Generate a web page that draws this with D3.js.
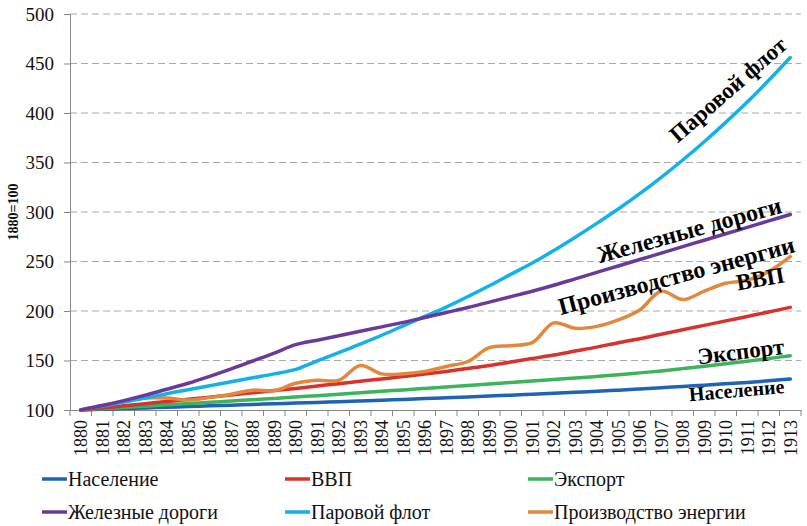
<!DOCTYPE html>
<html>
<head>
<meta charset="utf-8">
<script src="https://cdn.jsdelivr.net/npm/d3@7/dist/d3.min.js"></script>
</head>
<body style="margin:0">
<svg id="chart" width="807" height="526"></svg>
<script>
const years = d3.range(1880, 1914);
const yTicks = [100, 150, 200, 250, 300, 350, 400, 450, 500];
const population = [100, 100.7, 101.4, 102.1, 102.8, 103.5, 104.2, 104.9, 105.6, 106.3, 107.0, 107.7, 108.4, 109.1, 109.9, 110.7, 111.5, 112.3, 113.2, 114.1, 115.0, 115.9, 116.9, 117.9, 118.9, 120.0, 121.2, 122.5, 123.8, 125.1, 126.5, 127.9, 129.5, 131.3];
const gdp = [100, 102, 104.2, 106.4, 108.6, 110.8, 113, 115.2, 117.4, 119.6, 121.8, 124.2, 126.6, 129, 131.4, 133.8, 136.3, 139, 142, 145, 148.5, 152, 155.5, 159.5, 163.5, 168, 172, 176.5, 181, 185.5, 190, 194.5, 199, 203.7];
const exports_ = [100, 101.3, 102.6, 103.9, 105.2, 106.5, 107.8, 109.1, 110.4, 111.7, 113.1, 114.5, 116, 117.4, 118.9, 120.3, 121.8, 123.3, 124.8, 126.3, 127.8, 129.3, 130.8, 132.3, 133.9, 135.5, 137.5, 139.5, 141.8, 144.2, 146.7, 149.3, 152, 154.9];
const railways = [100, 104.5, 109.5, 115, 121, 127, 134, 141.5, 149.5, 157.5, 166, 170.5, 175, 179.5, 184, 188.5, 193.5, 198.5, 203.5, 209, 214.5, 220, 226, 232.5, 239, 245.5, 252, 258.5, 265, 271.5, 278, 284.5, 291, 297.5];
const steamFleet = [100, 104, 108, 112, 116.5, 120.5, 124.5, 128.5, 132.5, 136.5, 141, 149.5, 158, 166.5, 175.5, 185, 194.5, 204, 214.5, 225.5, 237, 248.5, 261, 274.5, 288.5, 303, 318.5, 335, 352.5, 371, 390.5, 411, 433, 456];
const energy = [100, 104.5, 108.5, 112, 112, 110, 112.5, 116, 120, 119.5, 127, 130, 130, 145, 136.5, 136.5, 139, 144, 149, 163, 165, 168, 188, 182.5, 184.5, 191, 201, 220, 211.5, 220, 228, 231, 240, 255];

const seriesNames = ["Население", "ВВП", "Экспорт", "Железные дороги", "Паровой флот", "Производство энергии"];
const seriesValues = [population, gdp, exports_, railways, steamFleet, energy];
const seriesColors = ["#1f63b3", "#d7322c", "#3bb45b", "#6a3a9b", "#12b2e9", "#e2883c"];
const yAxisTitle = "1880=100";
const labelTexts = ["Население", "ВВП", "Экспорт", "Железные дороги", "Паровой флот", "Производство энергии"];
const labelYears = [1910.5, 1911.6, 1910.7, 1908.3, 1910.1, 1907.7];
const labelValues = [120, 233, 159.5, 282, 424, 236];
const labelAngles = [-5, -10, -7, -15.5, -41, -15];
const labelSizes = [20, 23, 23, 24, 23, 24];

const FONT = '"Liberation Serif"';
const svg = d3.select("#chart");
const mLeft = 70, mRight = 801, mTop = 14, mBottom = 410;

const x = d3.scaleBand().domain(years).range([mLeft, mRight]).paddingInner(0).paddingOuter(0);
const y = d3.scaleLinear().domain([100, 500]).range([mBottom, mTop]);
const xc = yr => x(yr) + x.bandwidth() / 2;
const xf = yf => x(1880) + x.bandwidth() / 2 + (yf - 1880) * x.step();

// gridlines
svg.append("g").selectAll("line").data(yTicks.filter(d => d > 100)).join("line")
  .attr("x1", mLeft).attr("x2", mRight)
  .attr("y1", d => y(d)).attr("y2", d => y(d))
  .attr("stroke", "#a9a9a9").attr("stroke-width", 1)
  .attr("stroke-dasharray", "7,4");

// y axis
const yAxis = svg.append("g").attr("transform", `translate(${mLeft},0)`)
  .call(d3.axisLeft(y).tickValues(yTicks).tickSize(6).tickPadding(10))
  .attr("font-family", null).attr("font-size", null);
yAxis.select(".domain").attr("stroke", "#878787");
yAxis.selectAll(".tick line").attr("stroke", "#878787");
yAxis.selectAll(".tick text").style("font-size", "19px").attr("fill", "#111")
  .style("font-family", FONT);

// x axis
const xAxis = svg.append("g").attr("transform", `translate(0,${mBottom})`)
  .call(d3.axisBottom(x).tickSize(0).tickFormat(d => d))
  .attr("font-family", null).attr("font-size", null);
xAxis.select(".domain").attr("stroke", "#878787");
xAxis.selectAll(".tick text")
  .style("font-size", "18px").attr("fill", "#111")
  .style("font-family", FONT)
  .attr("transform", "rotate(-90)")
  .attr("text-anchor", "end")
  .attr("dy", "0.35em").attr("dx", "-0.55em").attr("y", 0).attr("x", 0);
// boundary ticks
svg.append("g").selectAll("line").data(years.concat([1914])).join("line")
  .attr("x1", d => d === 1914 ? mRight : x(d)).attr("x2", d => d === 1914 ? mRight : x(d))
  .attr("y1", mBottom).attr("y2", mBottom + 6)
  .attr("stroke", "#878787");

// y axis title
svg.append("text")
  .attr("transform", `translate(18,${y(300)}) rotate(-90)`)
  .attr("text-anchor", "middle")
  .style("font-size", "14px").style("font-weight", "bold").attr("fill", "#111")
  .style("font-family", FONT)
  .text(yAxisTitle);

// lines
const line = d3.line().x((d, i) => xc(years[i])).y(d => y(d)).curve(d3.curveCatmullRom.alpha(0.5));
const drawOrder = [0, 2, 1, 5, 4, 3];
svg.append("g").selectAll("path").data(drawOrder).join("path")
  .attr("d", k => line(seriesValues[k]))
  .attr("fill", "none")
  .attr("stroke", k => seriesColors[k])
  .attr("stroke-width", 3.5)
  .attr("stroke-linejoin", "round")
  .attr("stroke-linecap", "round");

// annotations
svg.append("g").selectAll("text").data(labelTexts).join("text")
  .attr("transform", (d, i) => `translate(${xf(labelYears[i])},${y(labelValues[i])}) rotate(${labelAngles[i]})`)
  .attr("text-anchor", "middle")
  .attr("dy", "0.35em")
  .style("font-weight", "bold")
  .style("font-size", (d, i) => labelSizes[i] + "px")
  .attr("fill", "#000")
  .style("font-family", FONT)
  .text(d => d);

// legend
const legX = [42, 285, 528];
const legY = [479, 512];
const leg = svg.append("g").selectAll("g").data(seriesNames).join("g")
  .attr("transform", (d, i) => `translate(${legX[i % 3]},${legY[Math.floor(i / 3)]})`);
leg.append("line").attr("x1", 0).attr("x2", 25).attr("y1", 0).attr("y2", 0)
  .attr("stroke", (d, i) => seriesColors[i]).attr("stroke-width", 3.5);
leg.append("text").attr("x", 26).attr("y", 0).attr("dy", "0.35em")
  .style("font-size", "20px").attr("fill", "#111")
  .style("font-family", FONT)
  .text(d => d);
</script>
</body>
</html>
